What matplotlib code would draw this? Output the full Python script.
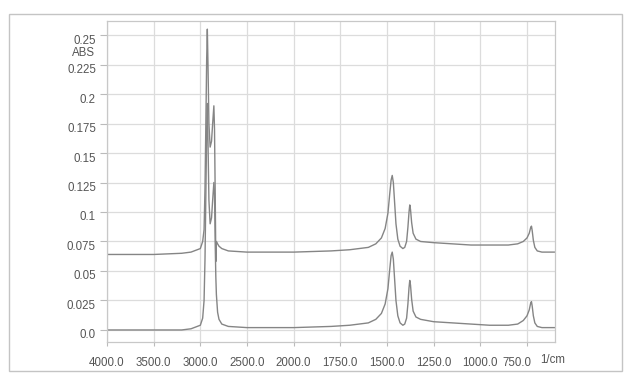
import numpy as np
import matplotlib
matplotlib.use("Agg")
import matplotlib.pyplot as plt
import matplotlib.transforms as mtransforms
from matplotlib.patches import Rectangle

plt.rcParams['font.family'] = ['Liberation Sans', 'DejaVu Sans']

# ---- data ----
wavenumber = [4000, 3500, 3200, 3100, 3000, 2975, 2960, 2950, 2940, 2932, 2925,
              2918, 2908, 2895, 2880, 2868, 2855, 2848, 2840, 2834, 2828, 2815,
              2800, 2770, 2700, 2500, 2200, 2000, 1800, 1700, 1600, 1560, 1530,
              1510, 1495, 1485, 1478, 1472, 1466, 1460, 1452, 1442, 1430, 1415,
              1405, 1395, 1388, 1382, 1378, 1374, 1368, 1360, 1345, 1320, 1250,
              1150, 1050, 950, 850, 800, 770, 750, 738, 730, 726, 722,
              716, 708, 695, 670, 600]

lower_abs = [0.000, 0.000, 0.000, 0.001, 0.004, 0.010, 0.025, 0.060, 0.120, 0.170, 0.192,
             0.160, 0.110, 0.090, 0.095, 0.110, 0.125, 0.115, 0.070, 0.045, 0.030, 0.015,
             0.009, 0.005, 0.003, 0.002, 0.002, 0.002, 0.003, 0.004, 0.006, 0.009, 0.014,
             0.022, 0.035, 0.052, 0.063, 0.066, 0.060, 0.045, 0.025, 0.012, 0.006, 0.004,
             0.005, 0.010, 0.022, 0.036, 0.042, 0.038, 0.026, 0.016, 0.011, 0.009, 0.007,
             0.006, 0.005, 0.004, 0.004, 0.005, 0.008, 0.012, 0.017, 0.023, 0.024, 0.020,
             0.012, 0.006, 0.003, 0.002, 0.002]

upper_abs = [0.064, 0.064, 0.065, 0.066, 0.069, 0.075, 0.085, 0.120, 0.180, 0.230, 0.255,
             0.225, 0.175, 0.155, 0.160, 0.175, 0.190, 0.170, 0.110, 0.058, 0.075, 0.073,
             0.071, 0.069, 0.067, 0.066, 0.066, 0.066, 0.067, 0.068, 0.070, 0.073, 0.078,
             0.086, 0.099, 0.116, 0.127, 0.131, 0.125, 0.110, 0.090, 0.077, 0.071, 0.069,
             0.070, 0.075, 0.087, 0.100, 0.106, 0.102, 0.091, 0.082, 0.077, 0.075, 0.074,
             0.073, 0.072, 0.072, 0.072, 0.073, 0.075, 0.078, 0.082, 0.087, 0.088, 0.084,
             0.076, 0.070, 0.067, 0.066, 0.066]

x_ticks = [4000, 3500, 3000, 2500, 2000, 1750, 1500, 1250, 1000, 750]
x_labels = ["4000.0", "3500.0", "3000.0", "2500.0", "2000.0", "1750.0",
            "1500.0", "1250.0", "1000.0", "750.0"]
y_ticks = [0.0, 0.025, 0.05, 0.075, 0.1, 0.125, 0.15, 0.175, 0.2, 0.225, 0.25]
y_labels = ["0.0", "0.025", "0.05", "0.075", "0.1", "0.125", "0.15", "0.175",
            "0.2", "0.225", "0.25"]

# piecewise wavenumber scale: doubled below 2000 1/cm
def fwd(x):
    x = np.asarray(x, dtype=float)
    return np.where(x >= 2000, x, 2000 + (x - 2000) * 2)

def inv(y):
    y = np.asarray(y, dtype=float)
    return np.where(y >= 2000, y, 2000 + (y - 2000) / 2)

W, H = 628, 373
fig = plt.figure(figsize=(W / 100, H / 100), dpi=100)
fig.patch.set_facecolor('white')

# outer frame
fig.patches.append(Rectangle((9 / W, 1 - 371 / H), (622 - 9) / W, (371 - 14) / H,
                             transform=fig.transFigure, fill=False,
                             edgecolor='#c4c4c4', linewidth=1.0))

ax = fig.add_axes([107 / W, 1 - 342 / H, (555 - 107) / W, (342 - 21) / H])
ax.set_xscale('function', functions=(fwd, inv))
ax.set_xlim(4000, 600)
ax.set_ylim(-0.0102, 0.2619)

line_col = '#858585'
ax.plot(wavenumber, lower_abs, color=line_col, lw=1.0)
ax.plot(wavenumber, upper_abs, color=line_col, lw=1.0)

ax.set_xticks(x_ticks)
ax.set_xticklabels(x_labels)
ax.set_yticks(y_ticks)
ax.set_yticklabels(y_labels)
ax.minorticks_off()

ax.grid(True, color='#dcdcdc', lw=0.9)
ax.set_axisbelow(True)
for s in ax.spines.values():
    s.set_color('#c8c8c8')
    s.set_linewidth(0.9)

txt_col = '#555555'
ax.tick_params(axis='x', length=3, pad=8, color='#bbbbbb', labelsize=8.3, labelcolor=txt_col)
ax.tick_params(axis='y', length=5, pad=3, color='#bbbbbb', labelsize=8.3, labelcolor=txt_col)

# y labels sit slightly below their grid lines
off = mtransforms.ScaledTranslation(0, -4 / 100, fig.dpi_scale_trans)
for lab in ax.get_yticklabels():
    lab.set_transform(lab.get_transform() + off)

# the 750.0 label is nudged left
off750 = mtransforms.ScaledTranslation(-10 / 100, 0, fig.dpi_scale_trans)
xl = ax.get_xticklabels()
xl[-1].set_transform(xl[-1].get_transform() + off750)

fig.text(95 / W, 1 - 53 / H, "ABS", ha='right', va='center', fontsize=8.3, color=txt_col)
fig.text(553 / W, 1 - 360 / H, "1/cm", ha='center', va='center', fontsize=8.3, color=txt_col)

fig.savefig("out.png", dpi=100)
